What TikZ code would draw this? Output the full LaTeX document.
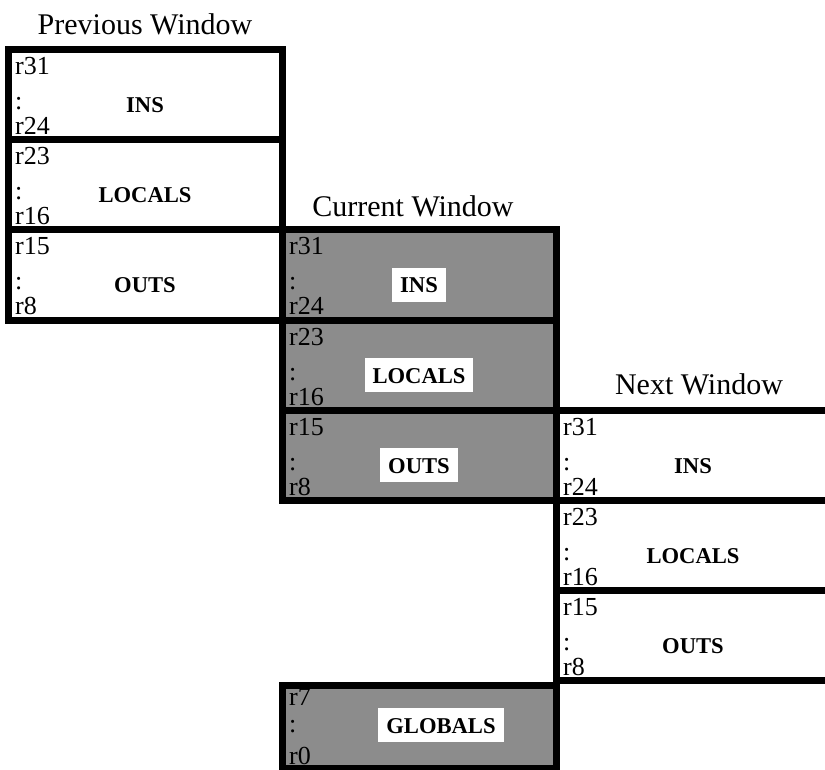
\documentclass[tikz,border=0pt]{standalone}
\usepackage{fontspec}
\setmainfont{Liberation Serif}
\usetikzlibrary{positioning}

\begin{document}
\begin{tikzpicture}[x=1pt,y=-1pt,
    winbox/.style={draw,line width=7pt,rectangle,minimum width=274pt,minimum height=90pt,
        inner sep=0pt,outer sep=0pt,anchor=north west},
    shaded/.style={fill=black!45},
    reg/.style={font=\fontsize{26}{30}\selectfont,inner sep=0pt,anchor=base west},
    lbl/.style={font=\fontsize{22.6}{27}\selectfont\bfseries,inner sep=0pt,anchor=base},
    whitelbl/.style={lbl,fill=white,inner xsep=8pt,inner ysep=9pt,text height=16pt,text depth=0pt},
    title/.style={font=\fontsize{30}{36}\selectfont,inner sep=0pt}]

    \clip (0,0) rectangle (825,770);

    % Previous window
    \node[winbox] (prevIns) at (8,50) {};
    \node[winbox, below=0pt of prevIns] (prevLoc) {};
    \node[winbox, below=0pt of prevLoc] (prevOut) {};
    \node[title, above=15pt of prevIns.north] (prevTitle) {Previous Window};

    % Current window, shaded
    \node[winbox, shaded] (curIns) at (prevOut.north east) {};
    \node[winbox, shaded, below=0pt of curIns] (curLoc) {};
    \node[winbox, shaded, below=0pt of curLoc] (curOut) {};
    \node[title, above=13pt of curIns.north, xshift=-6pt] (curTitle) {Current Window};

    % Next window, runs off the right edge
    \node[winbox] (nextIns) at (curOut.north east) {};
    \node[winbox, below=0pt of nextIns] (nextLoc) {};
    \node[winbox, below=0pt of nextLoc] (nextOut) {};
    \node[title, above=15pt of nextIns.north, xshift=6pt] (nextTitle) {Next Window};

    % Globals
    \node[winbox, shaded, minimum height=83pt] (glob) at (282,685) {};

    % Register ranges
    \foreach \b/\hi/\lo in {prevIns/r31/r24, prevLoc/r23/r16, prevOut/r15/r8,
                            curIns/r31/r24, curLoc/r23/r16, curOut/r15/r8,
                            nextIns/r31/r24, nextLoc/r23/r16, nextOut/r15/r8} {
        \node[reg] (\b-hi) at ([xshift=7pt,yshift=-25pt]\b.north west) {\hi};
        \node[reg] (\b-dots) at ([xshift=7pt,yshift=-60pt]\b.north west) {:};
        \node[reg] (\b-lo) at ([xshift=7pt,yshift=-85pt]\b.north west) {\lo};
    }
    \node[reg] (glob-hi) at ([xshift=7pt,yshift=-20pt]glob.north west) {r7};
    \node[reg] (glob-dots) at ([xshift=7pt,yshift=-47pt]glob.north west) {:};
    \node[reg] (glob-lo) at ([xshift=7pt,yshift=-79pt]glob.north west) {r0};

    % Window part names
    \foreach \b/\txt in {prevIns/INS, prevLoc/LOCALS, prevOut/OUTS,
                         nextIns/INS, nextLoc/LOCALS, nextOut/OUTS} {
        \node[lbl] (\b-name) at ([yshift=-63pt]\b.north) {\txt};
    }
    \foreach \b/\txt in {curIns/INS, curLoc/LOCALS, curOut/OUTS} {
        \node[whitelbl] (\b-name) at ([yshift=-63pt]\b.north) {\txt};
    }
    \node[whitelbl] (glob-name) at ([xshift=22pt,yshift=-48pt]glob.north) {GLOBALS};
\end{tikzpicture}
\end{document}
